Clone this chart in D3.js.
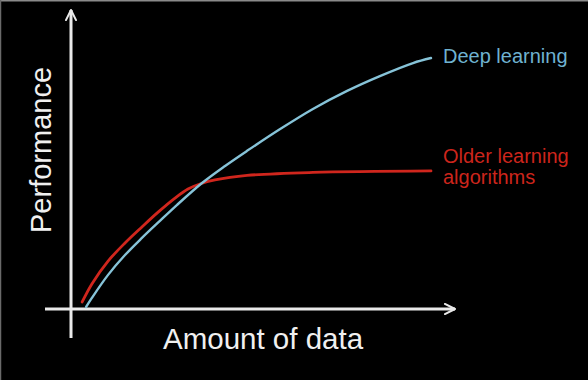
<!DOCTYPE html>
<html>
<head>
<meta charset="utf-8">
<script src="https://cdn.jsdelivr.net/npm/d3@7"></script>
<style>
  html, body { margin: 0; padding: 0; background: #000; }
  svg { display: block; }
</style>
</head>
<body>
<svg id="chart" width="588" height="380"></svg>
<script>
// data (x: amount of data, y: performance, both 0-100)
var deepX = [4.2, 5.8, 10.3, 15.0, 19.7, 24.7, 29.4, 36.4, 42.8, 48.9, 58.1, 67.2, 76.7, 85.8, 95.0, 100];
var deepY = [0.8, 4.4, 13.6, 21.5, 28.3, 35.1, 41.4, 50.2, 57.0, 63.0, 71.7, 79.7, 86.9, 92.8, 98.0, 100];
var oldX = [3.1, 5.8, 10.3, 15.0, 19.7, 24.2, 28.9, 32.5, 35.8, 40.0, 48.9, 67.2, 100];
var oldY = [2.8, 10.0, 19.1, 26.3, 32.7, 38.6, 44.2, 47.8, 49.8, 51.4, 53.2, 54.4, 55.0];
var seriesNames = ["Deep learning", ["Older learning", "algorithms"]];
var axisTitles = ["Amount of data", "Performance"];

var svg = d3.select("#chart");
var width = +svg.attr("width");
var height = +svg.attr("height");

var font = "'Liberation Sans', Arial, Helvetica, sans-serif";
var axisColor = "#e9e9e9";
var blue = "#86c3d8";
var red = "#d0261d";

// frame edge (top/left thin grey line)
svg.append("rect").attr("x", 0).attr("y", 0).attr("width", width).attr("height", height).attr("fill", "#000");
svg.append("line").attr("x1", 0).attr("y1", 0.5).attr("x2", width).attr("y2", 0.5)
	.attr("stroke", "#8a8a8a").attr("stroke-width", 2);
svg.append("line").attr("x1", 0.5).attr("y1", 0).attr("x2", 0.5).attr("y2", height)
	.attr("stroke", "#6a6a6a").attr("stroke-width", 1.5);

var x = d3.scaleLinear().domain([0, 100]).range([71, 431]);
var y = d3.scaleLinear().domain([0, 100]).range([309, 58]);

// axes with arrow heads
var defs = svg.append("defs");
defs.append("marker")
	.attr("id", "arrow")
	.attr("viewBox", "0 0 10 10")
	.attr("refX", 9).attr("refY", 5)
	.attr("markerWidth", 4.2).attr("markerHeight", 4.2)
	.attr("markerUnits", "strokeWidth")
	.attr("orient", "auto")
	.append("path")
	.attr("d", "M1,1 L9,5 L1,9")
	.attr("fill", "none")
	.attr("stroke", axisColor)
	.attr("stroke-width", 1.6)
	.attr("stroke-linecap", "round")
	.attr("stroke-linejoin", "round");

svg.append("line")
	.attr("x1", 45).attr("y1", y(0))
	.attr("x2", 455).attr("y2", y(0))
	.attr("stroke", axisColor).attr("stroke-width", 3)
	.attr("marker-end", "url(#arrow)");

svg.append("line")
	.attr("x1", x(0)).attr("y1", 338)
	.attr("x2", x(0)).attr("y2", 10)
	.attr("stroke", axisColor).attr("stroke-width", 3)
	.attr("marker-end", "url(#arrow)");

// curves
var line = d3.line()
	.x(function(d){ return x(d[0]); })
	.y(function(d){ return y(d[1]); })
	.curve(d3.curveCatmullRom.alpha(0.5));

var oldData = oldX.map(function(d, i){ return [d, oldY[i]]; });
var deepData = deepX.map(function(d, i){ return [d, deepY[i]]; });

svg.append("path")
	.datum(oldData)
	.attr("d", line)
	.attr("fill", "none")
	.attr("stroke", red)
	.attr("stroke-width", 2.8)
	.attr("stroke-linecap", "round");

svg.append("path")
	.datum(deepData)
	.attr("d", line)
	.attr("fill", "none")
	.attr("stroke", blue)
	.attr("stroke-width", 2.4)
	.attr("stroke-linecap", "round");

// series labels
svg.append("text")
	.attr("x", 443).attr("y", 63)
	.attr("fill", "#6fb2d0")
	.style("font-family", font)
	.style("font-size", "20px")
	.text(seriesNames[0]);

svg.append("text")
	.attr("x", 443).attr("y", 163)
	.attr("fill", "#cc251c")
	.style("font-family", font)
	.style("font-size", "20px")
	.selectAll("tspan")
	.data(seriesNames[1])
	.enter()
	.append("tspan")
	.attr("x", 443)
	.attr("dy", function(d, i){ return i == 0 ? 0 : 21; })
	.text(function(d){ return d; });

// axis titles
svg.append("text")
	.attr("x", 163).attr("y", 349)
	.attr("fill", "#f0f0f0")
	.style("font-family", font)
	.style("font-size", "29.5px")
	.text(axisTitles[0]);

svg.append("text")
	.attr("transform", "translate(51,150) rotate(-90)")
	.attr("text-anchor", "middle")
	.attr("fill", "#f0f0f0")
	.style("font-family", font)
	.style("font-size", "29px")
	.text(axisTitles[1]);
</script>
</body>
</html>
